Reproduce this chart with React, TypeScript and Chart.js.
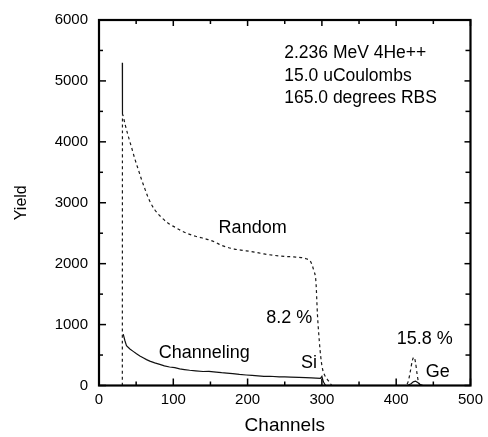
import React, { useEffect, useRef } from "react";
import { Chart, registerables } from "chart.js";

Chart.register(...registerables);

// Random spectrum (dashed)
const randomCh = [31.4, 31.6, 35, 39, 44, 48, 53, 57, 62, 66, 70, 75, 80, 84, 93, 102, 111, 120, 130, 138, 147, 156, 165, 182, 196, 209, 222, 236, 250, 262, 272, 279, 285, 289, 292, 294, 296.5, 298.5, 300.7, 303, 305, 308, 310, 314, 330, 360, 390, 412, 416, 419, 422, 424, 426, 428, 430, 433, 460, 500];
const randomY = [0, 4450, 4290, 4110, 3900, 3730, 3540, 3390, 3220, 3090, 2985, 2885, 2810, 2760, 2665, 2600, 2540, 2490, 2450, 2425, 2395, 2355, 2300, 2240, 2215, 2190, 2160, 2136, 2120, 2110, 2100, 2080, 2030, 1890, 1700, 1170, 735, 465, 280, 190, 140, 90, 60, 0, 0, 0, 0, 0, 60, 230, 420, 465, 380, 200, 60, 0, 0, 0];

// Channeling spectrum (solid)
const chanCh = [31.4, 31.6, 32, 32.6, 34.9, 37, 41.6, 46, 50.5, 55, 59.4, 64, 68.4, 75, 81.8, 88, 95, 102, 108.6, 115, 122, 130, 140, 148, 157.7, 165, 172, 180, 189, 198, 206, 214, 222, 230, 242.6, 250, 258, 269, 278, 286, 292, 298, 300, 302, 305, 320, 360, 400, 415, 420, 423, 426, 429, 432, 436, 460, 500];
const chanY = [5300, 4450, null, 843, 735, 654, 600, 560, 520, 485, 455, 425, 400, 372, 347, 322, 304, 292, 272, 262, 250, 240, 230, 232, 220, 210, 204, 195, 182, 172, 165, 157, 150, 152, 142, 140, 137, 132, 128, 125, 121, 118, 150, 60, 0, 0, 0, 0, 0, 30, 60, 70, 50, 20, 0, 0, 0];

// Axis tick values
const xMajorTicks = [0, 100, 200, 300, 400, 500];
const xMinorTicks = [50, 150, 250, 350, 450];
const yMajorTicks = [0, 1000, 2000, 3000, 4000, 5000, 6000];
const yMinorTicks = [500, 1500, 2500, 3500, 4500, 5500];

// Text labels (data coordinates of left edge / vertical middle)
const labelTexts = ["Random", "Channeling", "8.2 %", "Si", "15.8 %", "Ge"];
const labelCh = [161, 80.4, 225, 272, 400.8, 439.7];
const labelY = [2577, 541, 1107, 363, 767, 218];

const infoTexts = ["2.236 MeV 4He++", "15.0 uCoulombs", "165.0 degrees RBS"];
const infoCh = [249.3, 249.3, 249.3];
const infoY = [5452, 5081, 4717];

const FONT = '"Liberation Sans", Arial, Helvetica, sans-serif';

const framePlugin = {
  id: "framePlugin",
  afterDatasetsDraw(chart: any) {
    const { ctx, chartArea, scales } = chart;
    const xs = scales.x;
    const ys = scales.y;
    const { left, right, top, bottom } = chartArea;
    ctx.save();
    ctx.strokeStyle = "#000";
    ctx.lineWidth = 1.5;
    const tick = (x1: number, y1: number, x2: number, y2: number) => {
      ctx.beginPath();
      ctx.moveTo(x1, y1);
      ctx.lineTo(x2, y2);
      ctx.stroke();
    };
    xMajorTicks.forEach((v) => {
      const px = xs.getPixelForValue(v);
      tick(px, bottom, px, bottom - 7);
      tick(px, top, px, top + 6);
    });
    xMinorTicks.forEach((v) => {
      const px = xs.getPixelForValue(v);
      tick(px, bottom, px, bottom - 4);
      tick(px, top, px, top + 4);
    });
    yMajorTicks.forEach((v) => {
      const py = ys.getPixelForValue(v);
      tick(left, py, left + 7, py);
      tick(right, py, right - 6, py);
    });
    yMinorTicks.forEach((v) => {
      const py = ys.getPixelForValue(v);
      tick(left, py, left + 4, py);
      tick(right, py, right - 5, py);
    });
    ctx.lineWidth = 2.2;
    ctx.strokeRect(left, top, right - left, bottom - top);

    ctx.fillStyle = "#000";
    ctx.textAlign = "left";
    ctx.textBaseline = "middle";
    ctx.font = `18px ${FONT}`;
    labelTexts.forEach((t, i) => {
      ctx.fillText(t, xs.getPixelForValue(labelCh[i]), ys.getPixelForValue(labelY[i]));
    });
    ctx.font = `17.5px ${FONT}`;
    infoTexts.forEach((t, i) => {
      ctx.fillText(t, xs.getPixelForValue(infoCh[i]), ys.getPixelForValue(infoY[i]));
    });
    ctx.restore();
  },
};

export default function App() {
  const canvasRef = useRef<HTMLCanvasElement | null>(null);

  useEffect(() => {
    const canvas = canvasRef.current;
    if (!canvas) return;
    const randomData = randomCh.map((x, i) => ({ x, y: randomY[i] }));
    const chanData = chanCh.map((x, i) => ({ x, y: chanY[i] }));
    const chart = new Chart(canvas, {
      type: "line",
      data: {
        datasets: [
          {
            label: "Random",
            data: randomData as any,
            borderColor: "#1a1a1a",
            borderWidth: 1.2,
            borderDash: [3, 3],
            pointRadius: 0,
            cubicInterpolationMode: "monotone",
            fill: false,
          },
          {
            label: "Channeling",
            data: chanData as any,
            borderColor: "#111",
            borderWidth: 1.2,
            pointRadius: 0,
            tension: 0,
            spanGaps: false,
            fill: false,
          },
        ],
      },
      options: {
        responsive: false,
        animation: false,
        devicePixelRatio: 1,
        layout: { padding: { left: 0, right: 16, top: 14, bottom: 0 } },
        plugins: {
          legend: { display: false },
          tooltip: { enabled: false },
        },
        scales: {
          x: {
            type: "linear",
            min: 0,
            max: 500,
            grid: { display: false, drawTicks: false },
            border: { display: false },
            ticks: {
              stepSize: 100,
              padding: 5,
              color: "#000",
              font: { family: FONT, size: 15 },
              callback: (v: any) => String(v),
              maxRotation: 0,
            },
            title: {
              display: true,
              text: "Channels",
              color: "#000",
              font: { family: FONT, size: 19 },
              padding: { top: 0, bottom: 0 },
            },
            afterFit: (s: any) => {
              s.height = 51.5;
            },
          },
          y: {
            type: "linear",
            min: 0,
            max: 6000,
            grid: { display: false, drawTicks: false },
            border: { display: false },
            ticks: {
              stepSize: 1000,
              padding: 11,
              color: "#000",
              font: { family: FONT, size: 15 },
              callback: (v: any) => String(v),
            },
            title: {
              display: true,
              text: "Yield",
              color: "#000",
              font: { family: FONT, size: 16 },
              padding: { top: 12, bottom: 0 },
            },
            afterFit: (s: any) => {
              s.width = 99;
            },
          },
        },
      },
      plugins: [framePlugin],
    });
    return () => chart.destroy();
  }, []);

  return (
    <div style={{ position: "absolute", left: 0, top: 0, width: 488, height: 437, background: "#fff" }}>
      <canvas ref={canvasRef} width={488} height={437} style={{ display: "block" }} />
    </div>
  );
}
